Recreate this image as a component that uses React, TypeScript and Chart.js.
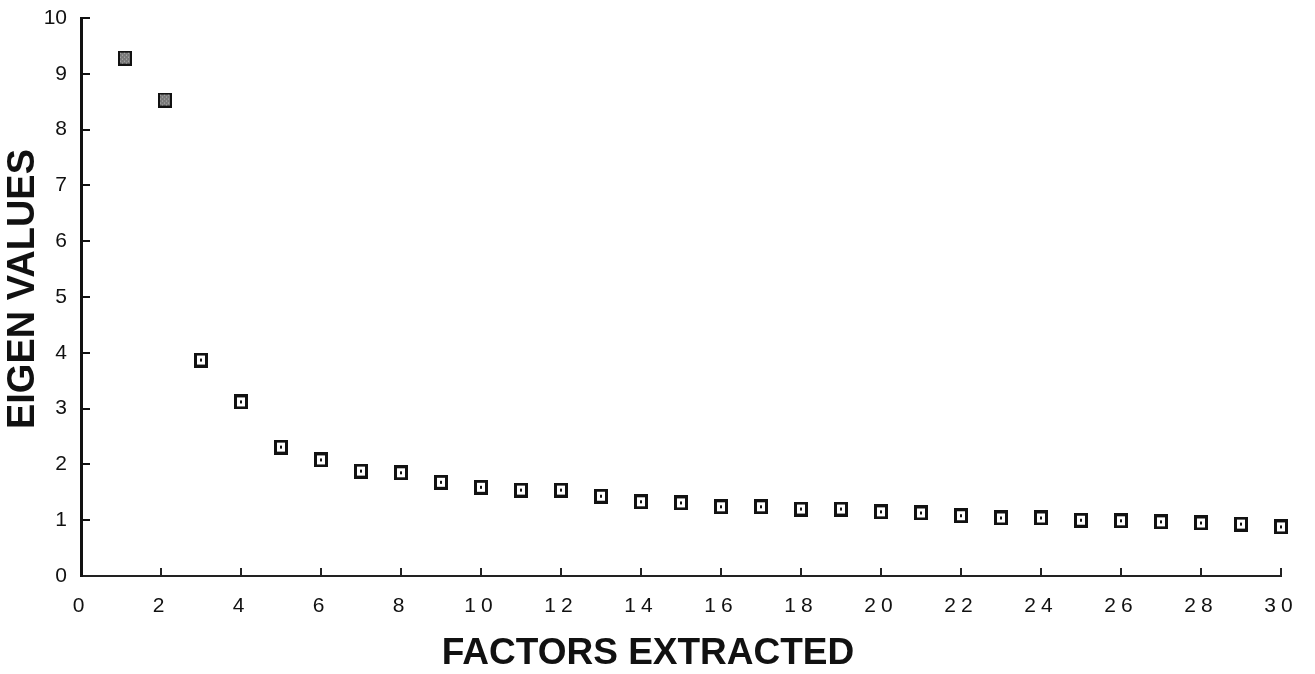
import React, { useEffect, useRef } from 'react';
import { Chart, registerables } from 'chart.js';

Chart.register(...registerables);

// Factor number (x) and eigen value (y) for each plotted point
const factors = [1.1, 2.1, 3, 4, 5, 6, 7, 8, 9, 10, 11, 12, 13, 14, 15, 16, 17, 18, 19, 20, 21, 22, 23, 24, 25, 26, 27, 28, 29, 30];
const eigenValues = [9.28, 8.53, 3.87, 3.12, 2.31, 2.08, 1.88, 1.85, 1.68, 1.59, 1.54, 1.54, 1.43, 1.33, 1.31, 1.24, 1.24, 1.2, 1.2, 1.15, 1.13, 1.08, 1.04, 1.04, 1.0, 0.99, 0.97, 0.95, 0.93, 0.88];
const filledPoints = [true, true]; // first two markers are shaded

const xTitle = 'FACTORS EXTRACTED';
const yTitle = 'EIGEN VALUES';
const xMin = 0, xMax = 30, xStep = 2;
const yMin = 0, yMax = 10, yStep = 1;

const FONT = '"Liberation Sans", Arial, Helvetica, sans-serif';

function makeMarker(filled: boolean): HTMLCanvasElement {
  const c = document.createElement('canvas');
  c.width = 14;
  c.height = 15;
  const g = c.getContext('2d')!;
  g.fillStyle = '#111';
  g.fillRect(0, 0, 14, 15);
  if (filled) {
    g.fillStyle = '#7a7a7a';
    g.fillRect(2, 2, 10, 11);
    g.fillStyle = '#b5b5b5';
    for (let i = 2; i < 12; i += 2) for (let j = 2; j < 13; j += 2) if ((i + j) % 4 === 0) g.fillRect(i, j, 1, 1);
  } else {
    g.fillStyle = '#fff';
    g.fillRect(3, 3, 8, 9);
    g.fillStyle = '#111';
    g.fillRect(6, 6, 2, 3);
  }
  return c;
}

export default function App() {
  const ref = useRef<HTMLCanvasElement>(null);

  useEffect(() => {
    const canvas = ref.current!;
    const hollow = makeMarker(false);
    const shaded = makeMarker(true);
    const data = factors.map((x, i) => ({ x, y: eigenValues[i] }));

    const decor = {
      id: 'decor',
      afterDatasetsDraw(chart: any) {
        (chart.ctx as any).letterSpacing = '5px';
      },
      afterDraw(chart: any) {
        const ctx = chart.ctx;
        (ctx as any).letterSpacing = '0px';
        ctx.save();
        ctx.fillStyle = '#111';
        ctx.textAlign = 'center';
        ctx.textBaseline = 'middle';
        ctx.font = `bold 37px ${FONT}`;
        ctx.fillText(xTitle, 648, 654);
        ctx.font = `bold 38px ${FONT}`;
        ctx.translate(24, 289);
        ctx.rotate(-Math.PI / 2);
        ctx.fillText(yTitle, 0, 0);
        ctx.restore();
      },
    };

    const chart = new Chart(canvas, {
      type: 'scatter',
      data: {
        datasets: [
          {
            data,
            pointStyle: factors.map((_, i) => (filledPoints[i] ? shaded : hollow)) as any,
            pointRadius: 7,
            clip: false as any,
          },
        ],
      },
      options: {
        animation: false,
        responsive: false,
        devicePixelRatio: 1,
        layout: { padding: { left: 0, right: 34, top: 18, bottom: 0 } },
        plugins: { legend: { display: false }, tooltip: { enabled: false } },
        scales: {
          x: {
            type: 'linear',
            min: xMin,
            max: xMax,
            border: { display: true, color: '#222', width: 2 },
            grid: { drawOnChartArea: false, drawTicks: true, tickLength: -8, color: '#222', lineWidth: 2 },
            ticks: { stepSize: xStep, padding: 26, z: 1, color: '#111', font: { family: FONT, size: 21 } } as any,
            afterFit: (s: any) => { s.height = 98; s.paddingLeft = 0; s.paddingRight = 0; },
          },
          y: {
            type: 'linear',
            min: yMin,
            max: yMax,
            border: { display: true, color: '#111', width: 3 },
            grid: { drawOnChartArea: false, drawTicks: true, tickLength: -9, color: '#111', lineWidth: 2 },
            ticks: { stepSize: yStep, padding: 23, color: '#111', font: { family: FONT, size: 21 } },
            afterFit: (s: any) => { s.width = 81; s.paddingTop = 0; s.paddingBottom = 0; },
          },
        },
      },
      plugins: [decor],
    });
    return () => chart.destroy();
  }, []);

  return (
    <div style={{ position: 'absolute', left: 0, top: 0, width: 1315, height: 674, background: '#fff' }}>
      <canvas ref={ref} width={1315} height={674} style={{ width: 1315, height: 674, display: 'block' }} />
    </div>
  );
}
